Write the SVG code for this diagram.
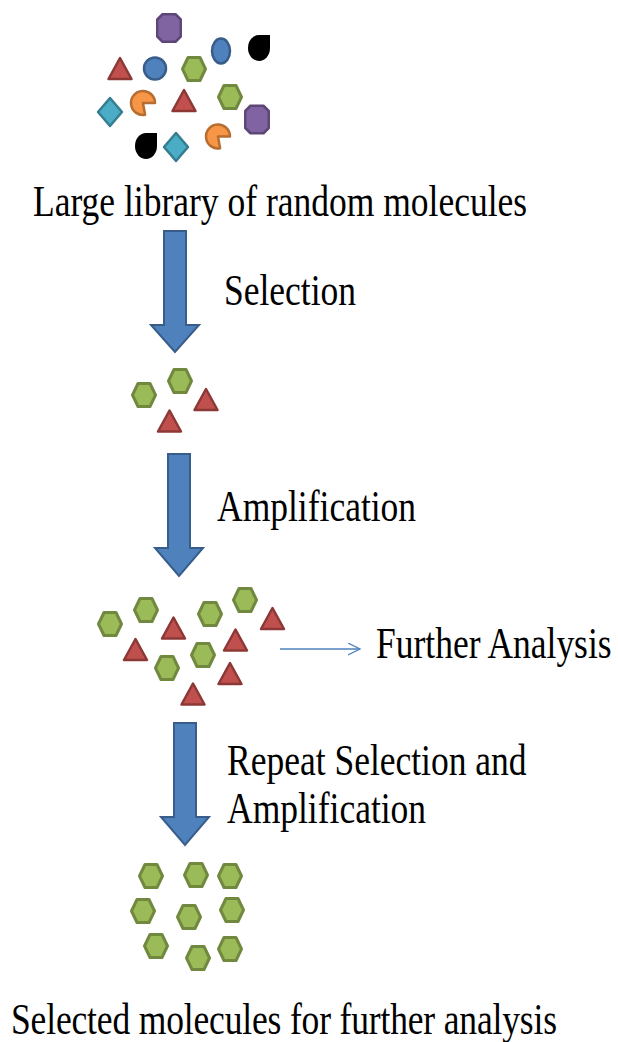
<svg xmlns="http://www.w3.org/2000/svg" xmlns:xlink="http://www.w3.org/1999/xlink" width="618" height="1042" viewBox="0 0 618 1042">
<style>
.t{font-family:"Liberation Serif","Times New Roman",serif;font-size:35.5px;fill:#000}
.hex{fill:#9BBB59;stroke:#71893F;stroke-width:3;stroke-linejoin:round}
.tri{fill:#C0504D;stroke:#8C3836;stroke-width:2.5;stroke-linejoin:round}
.oct{fill:#8064A2;stroke:#5C4776;stroke-width:2.5;stroke-linejoin:round}
.blue{fill:#4F81BD;stroke:#385D8A;stroke-width:2.5}
.cyan{fill:#4BACC6;stroke:#357D91;stroke-width:2.5;stroke-linejoin:round}
.orange{fill:#F79646;stroke:#B66D31;stroke-width:2.5;stroke-linejoin:round}
.drop{fill:#000}
.bigarrow{fill:#4F81BD;stroke:#385D8A;stroke-width:2;stroke-linejoin:miter}
.thin{fill:none;stroke:#4F81BD;stroke-width:1.3}
</style>
<defs>
<path id="hex" class="hex" d="M-11.5,0 L-6,-11.5 L6,-11.5 L11.5,0 L6,11.5 L-6,11.5 Z"/>
<path id="tri" class="tri" d="M0,-10.5 L11.5,10.5 L-11.5,10.5 Z"/>
<path id="oct" class="oct" d="M-6.5,-13.75 L6.5,-13.75 L11.75,-8.5 L11.75,8.5 L6.5,13.75 L-6.5,13.75 L-11.75,8.5 L-11.75,-8.5 Z"/>
<path id="dia" class="cyan" d="M0,-14 L12,0 L0,14 L-12,0 Z"/>
<path id="pac" class="orange" d="M0,0 L2.08,11.82 A12,12 0 1 1 12,0 Z"/>
<path id="drop" class="drop" d="M0,-13 L11,-13 L11,0 A11,13 0 1 1 0,-13 Z"/>
<marker id="open" markerWidth="14" markerHeight="14" refX="12" refY="6" orient="auto" markerUnits="userSpaceOnUse">
<path d="M0,0 L12,6 L0,12" fill="none" stroke="#4F81BD" stroke-width="1.3"/>
</marker>
</defs>

<g id="library">
<use xlink:href="#oct" x="169" y="28"/>
<ellipse class="blue" cx="221" cy="51" rx="9" ry="12.5"/>
<use xlink:href="#drop" x="259" y="48"/>
<use xlink:href="#tri" x="120" y="68.5"/>
<circle class="blue" cx="155" cy="68.5" r="11"/>
<use xlink:href="#hex" x="194" y="69"/>
<use xlink:href="#hex" x="230" y="97"/>
<use xlink:href="#tri" x="184" y="100.5"/>
<use xlink:href="#pac" x="143" y="103"/>
<use xlink:href="#dia" x="110" y="112"/>
<use xlink:href="#oct" x="257" y="119.5"/>
<use xlink:href="#pac" x="218" y="136.5"/>
<use xlink:href="#drop" x="146" y="146"/>
<use xlink:href="#dia" x="176" y="147"/>
<text class="t" transform="translate(33,216) scale(1,1.25)">Large library of random molecules</text>
</g>

<g id="selected">
<use xlink:href="#hex" x="144" y="395"/>
<use xlink:href="#hex" x="180" y="381"/>
<use xlink:href="#tri" x="206" y="399.5"/>
<use xlink:href="#tri" x="169.5" y="421"/>
</g>

<g id="amplified">
<use xlink:href="#hex" x="110" y="624"/>
<use xlink:href="#hex" x="146" y="610"/>
<use xlink:href="#hex" x="210" y="614"/>
<use xlink:href="#hex" x="245" y="600"/>
<use xlink:href="#hex" x="167" y="668"/>
<use xlink:href="#hex" x="203" y="655"/>
<use xlink:href="#tri" x="173.5" y="628"/>
<use xlink:href="#tri" x="272.5" y="618.5"/>
<use xlink:href="#tri" x="135.5" y="649.5"/>
<use xlink:href="#tri" x="235.5" y="640"/>
<use xlink:href="#tri" x="230" y="673.5"/>
<use xlink:href="#tri" x="193" y="694"/>
</g>

<g id="further-analysis">
<text class="t" transform="translate(376,658) scale(1,1.25)">Further Analysis</text>
</g>

<g id="final">
<use xlink:href="#hex" x="151" y="876"/>
<use xlink:href="#hex" x="196" y="875"/>
<use xlink:href="#hex" x="230" y="876"/>
<use xlink:href="#hex" x="143" y="911"/>
<use xlink:href="#hex" x="189" y="917"/>
<use xlink:href="#hex" x="232" y="910"/>
<use xlink:href="#hex" x="156" y="946"/>
<use xlink:href="#hex" x="198" y="958"/>
<use xlink:href="#hex" x="230" y="949"/>
<text class="t" transform="translate(11,1034) scale(1,1.25)" textLength="546" lengthAdjust="spacing">Selected molecules for further analysis</text>
</g>

<g id="connectors">
<path class="bigarrow" d="M164,231 L186,231 L186,325 L199,325 L175,352 L151,325 L164,325 Z"/>
<path class="bigarrow" d="M168,454 L190,454 L190,548 L203,548 L179,576 L155,548 L168,548 Z"/>
<path class="bigarrow" d="M174,723 L196,723 L196,817 L209,817 L185,845 L161,817 L174,817 Z"/>
<line class="thin" x1="280" y1="649" x2="360" y2="649" marker-end="url(#open)"/>
</g>

<g id="labels">
<text class="t" transform="translate(224,305) scale(1,1.25)">Selection</text>
<text class="t" transform="translate(217,521) scale(1,1.25)">Amplification</text>
<text class="t" transform="translate(227,775) scale(1,1.25)">Repeat Selection and</text>
<text class="t" transform="translate(227,823) scale(1,1.25)">Amplification</text>
</g>
</svg>
